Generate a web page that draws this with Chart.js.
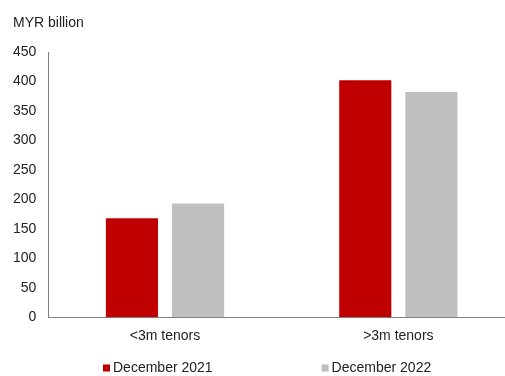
<!DOCTYPE html>
<html>
<head>
<meta charset="utf-8">
<script src="https://cdn.jsdelivr.net/npm/chart.js@4.4.0/dist/chart.umd.min.js"></script>
<style>
  html, body { margin: 0; padding: 0; background: #fff; overflow: hidden; }
  #wrap { width: 515px; height: 376px; }
</style>
</head>
<body>
<div id="wrap"><canvas id="chartBar"></canvas></div>
<script>
// Data
const categories = ['<3m tenors', '>3m tenors'];
const dec2021 = [168, 402];
const dec2022 = [193, 382];
const seriesNames = ['December 2021', 'December 2022'];
const seriesColors = ['#C00000', '#BFBFBF'];
const yTicks = [0, 50, 100, 150, 200, 250, 300, 350, 400, 450];
const unitLabel = 'MYR billion';

const fontFamily = '"Liberation Sans", Arial, sans-serif';
Chart.defaults.font.family = fontFamily;
Chart.defaults.font.size = 14;
Chart.defaults.color = '#222';

// label unit di kiri atas + legend manual di bawah
const extraText = {
  id: 'extraText',
  afterDraw(chart) {
    const ctx = chart.ctx;
    ctx.save();
    ctx.font = '14px ' + fontFamily;
    ctx.fillStyle = '#222';
    ctx.textBaseline = 'middle';
    ctx.textAlign = 'left';
    ctx.fillText(unitLabel, 13, 23);

    // legend
    const box = 7, gap = 3, between = 109;
    const widths = seriesNames.map(n => box + gap + ctx.measureText(n).width);
    let x = 103;
    const y = 368;
    seriesNames.forEach((name, i) => {
      ctx.fillStyle = seriesColors[i];
      ctx.fillRect(x, y - box / 2, box, box);
      ctx.fillStyle = '#222';
      ctx.fillText(name, x + box + gap, y);
      x += widths[i] + between;
    });
    ctx.restore();
  }
};

const ctxBar = document.getElementById('chartBar').getContext('2d');
const barChart = new Chart(ctxBar, {
  type: 'bar',
  data: {
    labels: categories,
    datasets: [
      { label: seriesNames[0], data: dec2021, backgroundColor: seriesColors[0] },
      { label: seriesNames[1], data: dec2022, backgroundColor: seriesColors[1] }
    ]
  },
  options: {
    responsive: true,
    maintainAspectRatio: false,
    animation: false,
    categoryPercentage: 0.567,
    barPercentage: 0.788,
    layout: { padding: { left: 1, right: 0, top: 52, bottom: 20 } },
    plugins: {
      legend: { display: false },
      tooltip: { enabled: false }
    },
    scales: {
      x: {
        grid: { display: false, drawTicks: false },
        border: { display: true, color: '#808080', width: 1 },
        ticks: { padding: 11, color: '#222' }
      },
      y: {
        min: 0,
        max: 450,
        afterBuildTicks: axis => { axis.ticks = yTicks.map(v => ({ value: v })); },
        grid: { display: false, drawTicks: false },
        border: { display: true, color: '#808080', width: 1 },
        ticks: { padding: 12, color: '#222' }
      }
    }
  },
  plugins: [extraText]
});
</script>
</body>
</html>
